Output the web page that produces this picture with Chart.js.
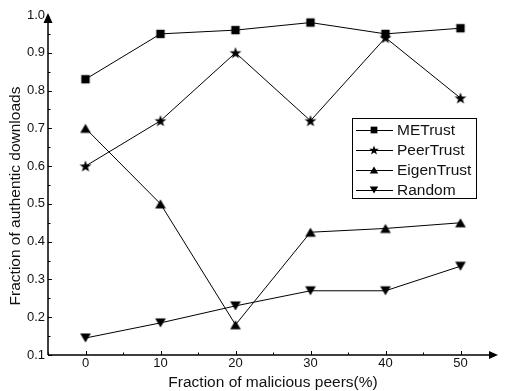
<!DOCTYPE html>
<html>
<head>
<meta charset="utf-8">
<script src="https://cdn.jsdelivr.net/npm/chart.js@4.4.1/dist/chart.umd.min.js"></script>
<style>
  html, body { margin: 0; padding: 0; background: #fff; }
  #wrap { width: 505px; height: 391px; }
</style>
</head>
<body>
<div id="wrap"><canvas id="chart"></canvas></div>
<script>
// ---- data ----
const fractions = [0, 10, 20, 30, 40, 50];
const seriesNames = ['METrust', 'PeerTrust', 'EigenTrust', 'Random'];
const meTrust = [0.83, 0.95, 0.96, 0.98, 0.95, 0.965];
const peerTrust = [0.60, 0.72, 0.90, 0.72, 0.94, 0.78];
const eigenTrust = [0.70, 0.50, 0.18, 0.425, 0.435, 0.45];
const randomPick = [0.145, 0.185, 0.23, 0.27, 0.27, 0.335];
const yTicks = [0.1, 0.2, 0.3, 0.4, 0.5, 0.6, 0.7, 0.8, 0.9, 1.0];
const xTicks = [0, 10, 20, 30, 40, 50];

const FONT = '"Liberation Sans", Arial, sans-serif';

// ---- marker sprites ----
function makeMarker(kind, scale) {
  const s = 16;
  const c = document.createElement('canvas');
  c.width = s; c.height = s;
  const g = c.getContext('2d');
  g.fillStyle = '#000';
  g.translate(s / 2, s / 2);
  g.scale(scale, scale);
  g.beginPath();
  if (kind === 'square') {
    g.rect(-4.2, -4.2, 8.4, 8.4);
  } else if (kind === 'star') {
    for (let i = 0; i < 10; i++) {
      const r = i % 2 === 0 ? 6.2 : 2.5;
      const a = -Math.PI / 2 + i * Math.PI / 5;
      const px = Math.cos(a) * r, py = Math.sin(a) * r + 0.5;
      if (i === 0) g.moveTo(px, py); else g.lineTo(px, py);
    }
    g.closePath();
  } else if (kind === 'up') {
    g.moveTo(0, -4.5); g.lineTo(5.3, 4.5); g.lineTo(-5.3, 4.5); g.closePath();
  } else if (kind === 'down') {
    g.moveTo(0, 4.5); g.lineTo(5.3, -4.5); g.lineTo(-5.3, -4.5); g.closePath();
  }
  g.fill();
  return c;
}

const markerKinds = ['square', 'star', 'up', 'down'];
const markers = markerKinds.map(k => makeMarker(k, 1));
const legendMarkers = markerKinds.map(k => makeMarker(k, 0.8));

function toPoints(values) {
  return values.map((v, i) => ({ x: fractions[i], y: v }));
}

const allSeries = [meTrust, peerTrust, eigenTrust, randomPick];

const datasets = allSeries.map((vals, i) => ({
  label: seriesNames[i],
  data: toPoints(vals),
  borderColor: '#000',
  borderWidth: 1,
  backgroundColor: '#000',
  pointStyle: markers[i],
  pointRadius: 6,
  pointHoverRadius: 6,
  tension: 0,
  fill: false
}));

// axes with arrows, inward ticks, titles and boxed legend
const paperPlugin = {
  id: 'paper',
  afterDraw(chart) {
    const ctx = chart.ctx;
    const { left, right, top, bottom } = chart.chartArea;
    const xs = chart.scales.x, ys = chart.scales.y;
    ctx.save();
    ctx.strokeStyle = '#000';
    ctx.fillStyle = '#000';

    // axis lines
    ctx.lineWidth = 1.5;
    ctx.beginPath();
    ctx.moveTo(left, bottom);
    ctx.lineTo(left, top + 6);
    ctx.moveTo(left, bottom);
    ctx.lineTo(right - 6, bottom);
    ctx.stroke();

    // arrow heads
    ctx.beginPath();
    ctx.moveTo(left, top - 2);
    ctx.lineTo(left + 4.5, top + 8);
    ctx.lineTo(left - 4.5, top + 8);
    ctx.closePath();
    ctx.fill();
    ctx.beginPath();
    ctx.moveTo(right, bottom);
    ctx.lineTo(right - 9, bottom - 4);
    ctx.lineTo(right - 9, bottom + 4);
    ctx.closePath();
    ctx.fill();

    // ticks pointing inward
    ctx.lineWidth = 1;
    ctx.beginPath();
    for (let v = 0.1; v <= 0.951; v += 0.05) {
      const major = Math.abs(Math.round(v * 10) - v * 10) < 0.01;
      const py = Math.round(ys.getPixelForValue(v)) + 0.5;
      ctx.moveTo(left, py);
      ctx.lineTo(left + (major ? 4 : 2.5), py);
    }
    for (let v = -5; v <= 50; v += 5) {
      const major = v % 10 === 0;
      const px = Math.round(xs.getPixelForValue(v)) + 0.5;
      ctx.moveTo(px, bottom);
      ctx.lineTo(px, bottom - (major ? 4 : 2.5));
    }
    ctx.stroke();

    // axis titles
    ctx.font = '15.5px ' + FONT;
    ctx.fillStyle = '#111';
    ctx.textAlign = 'center';
    ctx.textBaseline = 'middle';
    ctx.fillText('Fraction of malicious peers(%)', (left + right) / 2, 383);
    ctx.save();
    ctx.translate(16, 196);
    ctx.rotate(-Math.PI / 2);
    ctx.fillText('Fraction of authentic downloads', 0, 0);
    ctx.restore();

    // legend box
    const bx = 352.5, by = 118.5, bw = 124, bh = 80;
    ctx.fillStyle = '#fff';
    ctx.fillRect(bx, by, bw, bh);
    ctx.strokeStyle = '#000';
    ctx.lineWidth = 1;
    ctx.strokeRect(bx, by, bw, bh);
    ctx.font = '15.5px ' + FONT;
    ctx.textAlign = 'left';
    seriesNames.forEach((name, i) => {
      const cy = 130 + i * 20;
      ctx.beginPath();
      ctx.moveTo(356, cy + 0.5);
      ctx.lineTo(393, cy + 0.5);
      ctx.stroke();
      const m = legendMarkers[i];
      ctx.drawImage(m, 374 - m.width / 2, cy - m.height / 2);
      ctx.fillStyle = '#111';
      ctx.fillText(name, 397, cy + 1);
    });
    ctx.restore();
  }
};

new Chart(document.getElementById('chart'), {
  type: 'line',
  data: { datasets },
  options: {
    responsive: true,
    maintainAspectRatio: false,
    animation: false,
    layout: { padding: { top: 15, right: 0, left: 0, bottom: 0 } },
    plugins: {
      legend: { display: false },
      tooltip: { enabled: false }
    },
    scales: {
      x: {
        type: 'linear',
        min: -5,
        max: 55,
        afterFit(scale) { scale.height = 36; },
        afterBuildTicks(scale) { scale.ticks = xTicks.map(v => ({ value: v })); },
        grid: { display: false, drawTicks: false },
        border: { display: false },
        ticks: {
          autoSkip: false,
          padding: 1,
          color: '#111',
          font: { size: 13, family: FONT },
          callback: v => String(v)
        }
      },
      y: {
        min: 0.1,
        max: 1.0,
        afterFit(scale) { scale.width = 48; },
        afterBuildTicks(scale) { scale.ticks = yTicks.map(v => ({ value: v })); },
        grid: { display: false, drawTicks: false },
        border: { display: false },
        ticks: {
          autoSkip: false,
          padding: 3,
          color: '#111',
          font: { size: 13, family: FONT },
          callback: v => Number(v).toFixed(1)
        }
      }
    }
  },
  plugins: [paperPlugin]
});
</script>
</body>
</html>
